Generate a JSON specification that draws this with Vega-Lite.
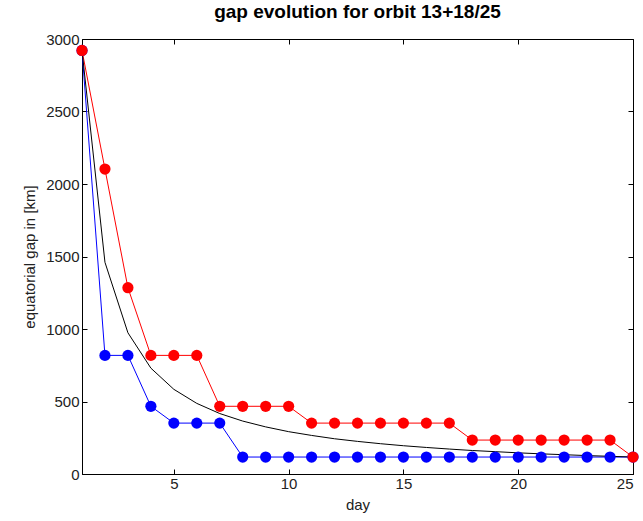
{
  "$schema": "https://vega.github.io/schema/vega-lite/v6.json",
  "autosize": {"type": "none"},
  "padding": {"left": 82, "top": 39, "right": 10, "bottom": 47},
  "width": 551,
  "height": 435,
  "background": "white",
  "title": {"text": "gap evolution for orbit 13+18/25", "font": "Liberation Sans", "fontSize": 19, "fontWeight": "bold", "color": "black", "offset": 10},
  "config": {
    "view": {"stroke": "black", "strokeWidth": 1},
    "axis": {"grid": false, "domainColor": "black", "tickColor": "black", "labelColor": "#222222", "labelFont": "Liberation Sans", "labelFontSize": 15, "titleFont": "Liberation Sans", "titleFontSize": 15, "titleFontWeight": "normal", "titleColor": "#222222", "tickSize": -5}
  },
  "data": {"values": [
    {"day": 1, "series": "lower", "gap": 2921},
    {"day": 2, "series": "lower", "gap": 818},
    {"day": 3, "series": "lower", "gap": 818},
    {"day": 4, "series": "lower", "gap": 467},
    {"day": 5, "series": "lower", "gap": 351},
    {"day": 6, "series": "lower", "gap": 351},
    {"day": 7, "series": "lower", "gap": 351},
    {"day": 8, "series": "lower", "gap": 117},
    {"day": 9, "series": "lower", "gap": 117},
    {"day": 10, "series": "lower", "gap": 117},
    {"day": 11, "series": "lower", "gap": 117},
    {"day": 12, "series": "lower", "gap": 117},
    {"day": 13, "series": "lower", "gap": 117},
    {"day": 14, "series": "lower", "gap": 117},
    {"day": 15, "series": "lower", "gap": 117},
    {"day": 16, "series": "lower", "gap": 117},
    {"day": 17, "series": "lower", "gap": 117},
    {"day": 18, "series": "lower", "gap": 117},
    {"day": 19, "series": "lower", "gap": 117},
    {"day": 20, "series": "lower", "gap": 117},
    {"day": 21, "series": "lower", "gap": 117},
    {"day": 22, "series": "lower", "gap": 117},
    {"day": 23, "series": "lower", "gap": 117},
    {"day": 24, "series": "lower", "gap": 117},
    {"day": 25, "series": "lower", "gap": 117},
    {"day": 1, "series": "upper", "gap": 2921},
    {"day": 2, "series": "upper", "gap": 2103},
    {"day": 3, "series": "upper", "gap": 1285},
    {"day": 4, "series": "upper", "gap": 818},
    {"day": 5, "series": "upper", "gap": 818},
    {"day": 6, "series": "upper", "gap": 818},
    {"day": 7, "series": "upper", "gap": 467},
    {"day": 8, "series": "upper", "gap": 467},
    {"day": 9, "series": "upper", "gap": 467},
    {"day": 10, "series": "upper", "gap": 467},
    {"day": 11, "series": "upper", "gap": 351},
    {"day": 12, "series": "upper", "gap": 351},
    {"day": 13, "series": "upper", "gap": 351},
    {"day": 14, "series": "upper", "gap": 351},
    {"day": 15, "series": "upper", "gap": 351},
    {"day": 16, "series": "upper", "gap": 351},
    {"day": 17, "series": "upper", "gap": 351},
    {"day": 18, "series": "upper", "gap": 234},
    {"day": 19, "series": "upper", "gap": 234},
    {"day": 20, "series": "upper", "gap": 234},
    {"day": 21, "series": "upper", "gap": 234},
    {"day": 22, "series": "upper", "gap": 234},
    {"day": 23, "series": "upper", "gap": 234},
    {"day": 24, "series": "upper", "gap": 234},
    {"day": 25, "series": "upper", "gap": 117},
    {"day": 1, "series": "mean", "gap": 2921},
    {"day": 2, "series": "mean", "gap": 1460},
    {"day": 3, "series": "mean", "gap": 974},
    {"day": 4, "series": "mean", "gap": 730},
    {"day": 5, "series": "mean", "gap": 584},
    {"day": 6, "series": "mean", "gap": 487},
    {"day": 7, "series": "mean", "gap": 417},
    {"day": 8, "series": "mean", "gap": 365},
    {"day": 9, "series": "mean", "gap": 325},
    {"day": 10, "series": "mean", "gap": 292},
    {"day": 11, "series": "mean", "gap": 266},
    {"day": 12, "series": "mean", "gap": 243},
    {"day": 13, "series": "mean", "gap": 225},
    {"day": 14, "series": "mean", "gap": 209},
    {"day": 15, "series": "mean", "gap": 195},
    {"day": 16, "series": "mean", "gap": 183},
    {"day": 17, "series": "mean", "gap": 172},
    {"day": 18, "series": "mean", "gap": 162},
    {"day": 19, "series": "mean", "gap": 154},
    {"day": 20, "series": "mean", "gap": 146},
    {"day": 21, "series": "mean", "gap": 139},
    {"day": 22, "series": "mean", "gap": 133},
    {"day": 23, "series": "mean", "gap": 127},
    {"day": 24, "series": "mean", "gap": 122},
    {"day": 25, "series": "mean", "gap": 117}
  ]},
  "layer": [
    {"mark": {"type": "line", "strokeWidth": 1},
     "encoding": {
      "x": {"field": "day", "type": "quantitative", "scale": {"domain": [1, 25], "nice": false, "zero": false}, "axis": {"title": "day", "values": [5, 10, 15, 20, 25], "labelPadding": 7, "titlePadding": 6}},
      "y": {"field": "gap", "type": "quantitative", "scale": {"domain": [0, 3000], "nice": false}, "axis": {"title": "equatorial gap in [km]", "format": "d", "values": [0, 500, 1000, 1500, 2000, 2500, 3000], "labelPadding": 8, "titlePadding": 8}},
      "color": {"field": "series", "type": "nominal", "scale": {"domain": ["lower", "mean", "upper"], "range": ["#0000ff", "#000000", "#ff0000"]}, "legend": null},
      "detail": {"field": "series"}
    }},
    {"transform": [{"filter": "datum.series != 'mean'"}],
     "mark": {"type": "point", "filled": true, "opacity": 1, "size": 125, "shape": "circle"},
     "encoding": {
      "x": {"field": "day", "type": "quantitative", "axis": null},
      "y": {"field": "gap", "type": "quantitative", "axis": null},
      "color": {"field": "series", "type": "nominal", "legend": null}
    }},
    {"mark": {"type": "point", "opacity": 0}, "encoding": {
      "x": {"field": "day", "type": "quantitative", "axis": {"orient": "top", "title": null, "labels": false, "domain": false, "values": [5, 10, 15, 20, 25]}},
      "y": {"field": "gap", "type": "quantitative", "axis": {"orient": "right", "title": null, "labels": false, "domain": false, "values": [0, 500, 1000, 1500, 2000, 2500, 3000]}}
    }}
  ],
  "resolve": {"axis": {"x": "independent", "y": "independent"}}
}
